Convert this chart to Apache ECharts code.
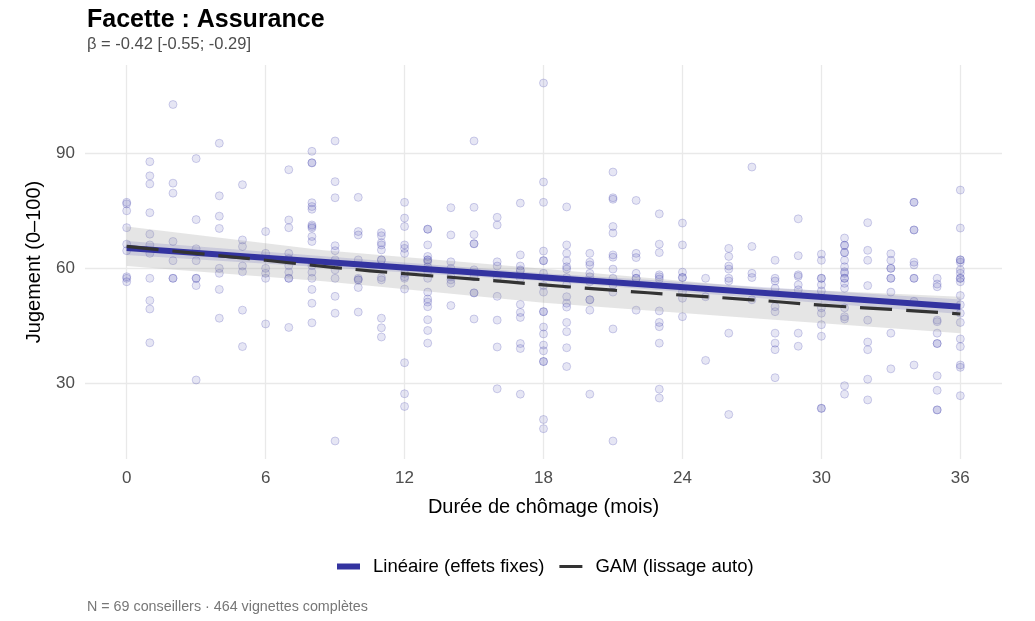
<!DOCTYPE html>
<html><head><meta charset="utf-8">
<script src="https://cdn.jsdelivr.net/npm/echarts@6/dist/echarts.min.js"></script>
<style>html,body{margin:0;padding:0;background:#fff}#c{width:1035px;height:621px}</style>
</head><body><div id="c"></div>
<script>
// ---- data ----
const xTicks = [0, 6, 12, 18, 24, 30, 36];
const yTicks = [30, 60, 90];
const months = [0,1,2,3,4,5,6,7,8,9,10,11,12,13,14,15,16,17,18,19,20,21,22,23,24,25,26,27,28,29,30,31,32,33,34,35,36];
const judgementsByMonth = [
  [77.1,76.7,74.9,70.5,66.2,64.5,57.7,57.3,56.4],
  [87.7,84.0,81.9,74.4,68.8,66.0,63.8,57.3,51.5,49.3,40.5],
  [102.6,82.1,79.5,66.9,61.9,57.3,57.3],
  [88.5,72.6,65.0,61.9,57.3,57.3,55.4,30.8],
  [92.5,78.8,73.5,70.3,59.9,58.6,54.4,46.9],
  [81.7,67.3,65.6,60.5,59.0,49.0,39.5],
  [69.5,63.8,59.9,58.6,57.3,45.4],
  [85.6,72.5,70.5,63.8,62.4,60.6,58.9,57.3,57.3,44.5],
  [90.4,87.4,87.4,77.0,76.0,75.3,71.2,70.8,70.4,68.2,66.9,60.6,58.9,57.3,54.4,50.8,45.7],
  [93.1,82.5,78.3,65.8,64.5,62.1,59.5,57.3,52.6,48.2,14.9],
  [78.4,69.5,68.6,62.1,57.3,56.9,56.9,54.9,48.5],
  [69.2,68.4,66.6,66.0,64.7,62.1,62.1,57.5,56.9,46.9,44.4,42.0],
  [77.1,73.0,70.8,66.0,65.1,63.8,58.6,57.7,57.3,54.5,35.3,27.2,23.9],
  [70.1,70.1,66.0,63.0,62.1,62.1,61.6,60.3,59.0,57.3,53.7,51.9,51.1,49.9,46.5,43.7,40.4],
  [75.7,68.6,61.6,59.9,57.7,56.9,56.0,50.2],
  [93.1,75.8,68.7,66.3,66.3,59.5,57.7,53.5,53.5,46.7],
  [73.2,71.2,61.6,60.5,57.3,52.6,46.4,39.4,28.5],
  [76.9,63.4,60.5,59.5,59.2,57.3,50.5,48.4,47.1,40.3,39.0,27.1],
  [108.2,82.4,77.1,64.4,61.9,61.9,58.6,55.4,53.7,48.6,48.6,44.6,42.8,39.9,38.4,35.6,35.6,20.5,18.1],
  [75.9,66.0,63.8,61.9,60.3,59.7,57.5,55.6,52.5,50.8,49.8,45.8,43.4,39.2,34.3],
  [63.8,61.5,60.8,58.6,57.7,56.4,51.7,51.7,49.0,27.1],
  [85.0,78.3,77.9,70.8,69.1,63.4,62.8,59.7,57.3,55.6,53.7,44.1,14.9],
  [77.6,63.8,62.7,58.6,57.3,57.3,49.0],
  [74.1,66.2,64.0,58.2,57.7,57.1,48.8,45.8,44.7,40.4,28.4,26.1],
  [71.7,66.0,58.9,57.5,57.5,53.8,52.1,47.3],
  [57.3,52.5,35.9],
  [65.1,63.0,60.5,59.7,57.3,56.6,43.0,21.8],
  [86.3,65.6,58.6,57.5,51.7],
  [62.0,57.3,56.6,54.7,49.9,48.6,43.0,40.4,38.7,31.4],
  [72.8,63.2,58.2,57.8,55.6,54.3,43.0,39.6],
  [63.6,62.0,57.3,57.3,55.6,54.0,49.6,48.2,45.2,42.2,23.4,23.4],
  [67.8,65.9,65.9,64.0,64.0,62.0,60.3,59.0,58.6,57.3,57.3,56.0,54.7,49.6,47.3,46.7,29.3,27.1],
  [71.8,64.6,62.0,55.4,46.4,40.7,38.7,31.0,25.6],
  [63.7,62.0,59.9,59.9,57.3,57.3,53.7,43.0,33.7],
  [77.1,77.1,69.9,69.9,61.5,60.8,57.3,57.3,51.3,34.7],
  [57.3,55.8,55.1,46.4,46.0,43.0,40.3,40.3,31.9,28.1,23.0,23.0],
  [80.3,70.4,62.1,62.1,61.5,59.5,58.6,57.3,57.3,56.4,52.8,50.4,48.2,45.8,41.5,39.5,34.7,34.1,26.7]
];
const linX = [0, 36];
const linY = [65.2, 49.9];
const linBandX = [0, 18, 36];
const linBandLow = [63.4, 56.6, 48.0];
const linBandHigh = [67.0, 58.6, 51.8];
const gamX = [0, 3, 6, 9, 12, 15, 18, 21, 24, 27, 30, 33, 36];
const gamY = [65.6, 63.8, 62.0, 60.1, 58.5, 57.1, 55.6, 54.2, 52.9, 51.7, 50.3, 49.2, 48.0];
const gamBandX = [0, 8.5, 18, 27.5, 36];
const gamBandLow = [60.5, 56.5, 50.9, 46.7, 43.0];
const gamBandHigh = [70.8, 64.6, 59.8, 54.8, 52.5];

// ---- build ----
const FONT = "'Liberation Sans', Arial, Helvetica, sans-serif";
const points = [];
months.forEach((m, i) => judgementsByMonth[i].forEach(v => points.push([m, v])));

function bandSeries(xs, lo, hi, fill, z) {
  return {
    type: 'custom', silent: true, z: z, clip: true,
    data: [[xs[0], lo[0]]],
    renderItem: function (params, api) {
      const pts = [];
      for (let i = 0; i < xs.length; i++) pts.push(api.coord([xs[i], hi[i]]));
      for (let i = xs.length - 1; i >= 0; i--) pts.push(api.coord([xs[i], lo[i]]));
      return { type: 'polygon', shape: { points: pts }, style: { fill: fill } };
    }
  };
}

const chart = echarts.init(document.getElementById('c'), null, { renderer: 'canvas' });
chart.setOption({
  animation: false,
  backgroundColor: '#fff',
  textStyle: { fontFamily: FONT },
  title: {
    text: 'Facette : Assurance',
    subtext: 'β = -0.42 [-0.55; -0.29]',
    left: 82, top: 3, itemGap: 3,
    textStyle: { fontSize: 25, fontWeight: 'bold', color: '#000', fontFamily: FONT },
    subtextStyle: { fontSize: 16.5, color: '#4d4d4d', fontFamily: FONT }
  },
  grid: { left: 85, right: 33, top: 65, bottom: 162, containLabel: false },
  xAxis: {
    type: 'value', min: -1.8, max: 37.8,
    axisLine: { show: false },
    axisTick: { show: false, customValues: xTicks },
    axisLabel: { customValues: xTicks, color: '#4d4d4d', fontSize: 17, margin: 11, fontFamily: FONT },
    splitLine: { show: true, lineStyle: { color: '#e9e9e9', width: 1.3 } },
    name: 'Durée de chômage (mois)', nameLocation: 'middle', nameGap: 38,
    nameTextStyle: { fontSize: 20, color: '#000', fontFamily: FONT }
  },
  yAxis: {
    type: 'value', min: 10.2, max: 112.9,
    axisLine: { show: false },
    axisTick: { show: false, customValues: yTicks },
    axisLabel: { customValues: yTicks, color: '#4d4d4d', fontSize: 17, margin: 10, fontFamily: FONT },
    splitLine: { show: true, lineStyle: { color: '#e9e9e9', width: 1.3 } },
    name: 'Jugement (0–100)', nameLocation: 'middle', nameGap: 41, nameRotate: 90,
    nameTextStyle: { fontSize: 20, color: '#000', fontFamily: FONT }
  },
  legend: {
    top: 552, left: 332, itemWidth: 31, itemHeight: 6, itemGap: 15,
    textStyle: { fontSize: 18.5, color: '#000', fontFamily: FONT },
    data: [
      { name: 'Linéaire (effets fixes)', icon: 'path://M0,0 M31,6 M0,0 L23,0 L23,6 L0,6 Z', itemStyle: { color: '#3333a0', borderWidth: 0 } },
      { name: 'GAM (lissage auto)', icon: 'path://M0,0 M31,6 M0,1.5 L23,1.5 L23,4.5 L0,4.5 Z', itemStyle: { color: '#333333', borderWidth: 0 } }
    ]
  },
  series: [
    {
      name: 'obs', type: 'scatter', data: points, symbolSize: 8, z: 1,
      itemStyle: { color: 'rgba(60,60,170,0.16)', borderColor: 'rgba(60,60,170,0.28)', borderWidth: 1 },
      silent: true
    },
    bandSeries(gamBandX, gamBandLow, gamBandHigh, 'rgba(153,153,153,0.25)', 2),
    bandSeries(linBandX, linBandLow, linBandHigh, 'rgba(51,51,160,0.15)', 3),
    {
      name: 'Linéaire (effets fixes)', type: 'line', z: 4, symbol: 'none', silent: true,
      data: linX.map((x, i) => [x, linY[i]]),
      itemStyle: { color: '#3333a0' },
      lineStyle: { color: '#3333a0', width: 6 }
    },
    {
      name: 'GAM (lissage auto)', type: 'line', z: 5, symbol: 'none', silent: true, smooth: true,
      data: gamX.map((x, i) => [x, gamY[i]]),
      itemStyle: { color: '#333333' },
      lineStyle: { color: '#333333', width: 3.2, type: [32, 14] }
    }
  ],
  graphic: [
    { type: 'text', left: 87, top: 600,
      style: { text: 'N = 69 conseillers · 464 vignettes complètes', fill: '#777', fontSize: 14.3, fontFamily: FONT } }
  ]
});
</script>
</body></html>
